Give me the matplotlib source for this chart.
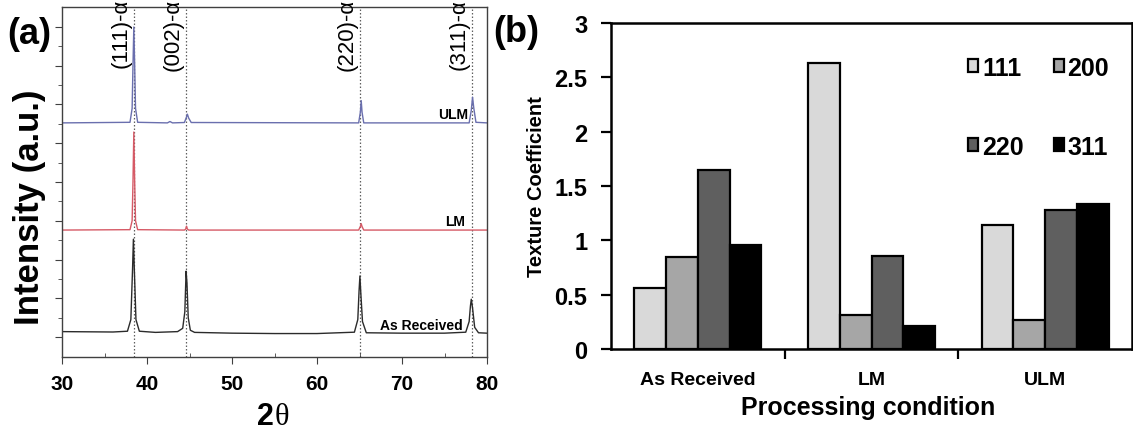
import matplotlib
matplotlib.use("Agg")
import matplotlib.pyplot as plt
import numpy as np

plt.rcParams['font.family'] = ['Liberation Sans', 'DejaVu Sans']

# --- (a) XRD patterns, offset vertically ---
tt_ar = [30, 33, 36, 37.7, 38.1, 38.3, 38.4, 38.5, 38.7, 39.1, 41, 43.6, 44.2,
         44.45, 44.6, 44.7, 44.85, 45.1, 45.6, 50, 55, 60, 64.4, 64.8, 64.95,
         65.05, 65.15, 65.35, 65.8, 70, 75, 77.5, 77.9, 78.05, 78.15, 78.3,
         78.55, 79.0, 80]
int_ar = [0.28, 0.27, 0.26, 0.3, 0.9, 3.5, 5.05, 3.6, 0.9, 0.3, 0.24, 0.28, 0.45,
          1.3, 3.4, 2.8, 1.0, 0.35, 0.24, 0.2, 0.18, 0.18, 0.25, 0.9, 2.4,
          3.15, 2.3, 0.8, 0.22, 0.2, 0.2, 0.25, 0.8, 1.6, 1.95, 1.5,
          0.5, 0.22, 0.2]

tt_lm = [30, 38.0, 38.25, 38.35, 38.45, 38.55, 38.65, 38.9, 44.4, 44.55, 44.65,
         44.75, 44.9, 64.9, 65.1, 65.2, 65.3, 65.5, 80]
int_lm = [5.52, 5.54, 6.0, 8.0, 10.58, 8.0, 6.0, 5.54, 5.52, 5.57, 5.72,
          5.57, 5.52, 5.52, 5.7, 5.85, 5.7, 5.52, 5.52]

tt_ulm = [30, 38.0, 38.25, 38.35, 38.45, 38.55, 38.65, 38.9, 42.4, 42.7, 43.0,
          44.4, 44.6, 44.75, 44.9, 45.2, 64.9, 65.1, 65.2, 65.3, 65.5, 77.9,
          78.15, 78.3, 78.45, 78.7, 80]
int_ulm = [11.05, 11.08, 11.8, 14.0, 16.0, 14.0, 11.8, 11.08, 11.05, 11.12, 11.05,
           11.07, 11.3, 11.5, 11.3, 11.07, 11.05, 11.6, 12.2, 11.6, 11.05, 11.05,
           11.7, 12.38, 11.8, 11.08, 11.05]

peak_pos = [38.42, 44.6, 65.05, 78.18]
peak_names = ['(111)-α', '(002)-α', '(220)-α', '(311)-α']

# --- (b) texture coefficients ---
conditions = ['As Received', 'LM', 'ULM']
planes = ['111', '200', '220', '311']
tc = {
    '111': [0.56, 2.63, 1.14],
    '200': [0.85, 0.31, 0.27],
    '220': [1.65, 0.86, 1.28],
    '311': [0.96, 0.21, 1.33],
}
bar_colors = ['#d9d9d9', '#a6a6a6', '#5f5f5f', '#000000']

W, H = 1133, 431
fig = plt.figure(figsize=(W / 100, H / 100), dpi=100)

ax1 = fig.add_axes([62 / W, 1 - 358 / H, 425 / W, 350 / H])
for x in peak_pos:
    ax1.axvline(x, color='#606060', ls=(0, (1.2, 1.6)), lw=0.9, zorder=1)
ax1.plot(tt_ar, int_ar, color='#2b2b2b', lw=1.0, zorder=2)
ax1.plot(tt_lm, int_lm, color='#d65a66', lw=1.0, zorder=2)
ax1.plot(tt_ulm, int_ulm, color='#6a6fae', lw=1.0, zorder=2)

for x, name in zip(peak_pos, peak_names):
    ax1.text(x - 0.25, 17.5, name, rotation=90, ha='right', va='top', fontsize=16)

ax1.text(77.8, 11.5, 'ULM', ha='right', va='center', fontsize=10, fontweight='bold')
ax1.text(77.4, 6.0, 'LM', ha='right', va='center', fontsize=10, fontweight='bold')
ax1.text(77.2, 0.6, 'As Received', ha='right', va='center', fontsize=10,
         fontweight='bold')

ax1.set_xlim(30, 80)
ax1.set_ylim(-1.03, 17.03)
ax1.set_xticks(np.arange(30, 81, 10))
ax1.set_xticks(np.arange(35, 80, 10), minor=True)
ax1.set_yticks(np.arange(0, 17, 2))
ax1.set_yticks(np.arange(1, 17, 2), minor=True)
ax1.tick_params(axis='y', which='both', labelleft=False, direction='out',
                color='#404040')
ax1.tick_params(axis='y', which='major', length=5)
ax1.tick_params(axis='y', which='minor', length=3)
ax1.tick_params(axis='x', which='major', length=5, direction='out', pad=7,
                labelsize=15, color='#404040')
ax1.tick_params(axis='x', which='minor', length=3, direction='in', color='#404040')
for lab in ax1.get_xticklabels():
    lab.set_fontweight('bold')
for sp in ax1.spines.values():
    sp.set_color('#404040')
    sp.set_linewidth(1.0)

fig.text(30 / W, 1 - 207 / H, 'Intensity (a.u.)', rotation=90, ha='center',
         va='center', fontsize=25, fontweight='bold')
fig.text(274 / W, 1 - 425 / H, '2', ha='right', va='baseline', fontsize=22,
         fontweight='bold')
fig.text(275 / W, 1 - 425 / H, 'θ', ha='left', va='baseline', fontsize=22,
         family=['Liberation Serif', 'DejaVu Serif'])
fig.text(29 / W, 1 - 35 / H, '(a)', ha='center', va='center', fontsize=26,
         fontweight='bold')

# --- panel (b) ---
ax2 = fig.add_axes([611 / W, 1 - 350 / H, 521 / W, 326 / H])
x = np.arange(len(conditions))
w = 0.183
bars = []
for i, (p, c) in enumerate(zip(planes, bar_colors)):
    bars.append(ax2.bar(x + (i - 1.5) * w, tc[p], width=w, color=c,
                        edgecolor='black', linewidth=1.6, label=p))

ax2.set_xlim(-0.5, 2.5)
ax2.set_ylim(0, 3)
ax2.set_yticks([0, 0.5, 1, 1.5, 2, 2.5, 3])
ax2.set_yticklabels(['0', '0.5', '1', '1.5', '2', '2.5', '3'])
ax2.set_xticks(x)
ax2.set_xticklabels(conditions)
ax2.set_xticks([0.5, 1.5], minor=True)
ax2.tick_params(axis='x', which='major', length=0, pad=16, labelsize=14)
ax2.tick_params(axis='x', which='minor', length=7, width=1.6, direction='out')
ax2.tick_params(axis='y', length=7, width=1.6, direction='out', pad=10,
                labelsize=17)
for lab in ax2.get_xticklabels() + ax2.get_yticklabels():
    lab.set_fontweight('bold')
for sp in ax2.spines.values():
    sp.set_linewidth(1.8)

# two columns filled row by row: 111 200 / 220 311
order = [0, 2, 1, 3]
ax2.legend([bars[i] for i in order], [planes[i] for i in order], ncol=2,
           loc='upper left', bbox_to_anchor=(0.686, 0.90), frameon=False,
           prop={'weight': 'bold', 'size': 18}, handlelength=0.4,
           handleheight=0.4, handletextpad=0.15, columnspacing=1.2,
           labelspacing=2.2, borderpad=0, borderaxespad=0)

fig.text(536 / W, 1 - 187 / H, 'Texture Coefficient', rotation=90, ha='center',
         va='center', fontsize=14.5, fontweight='bold')
fig.text(868 / W, 1 - 408 / H, 'Processing condition', ha='center', va='center',
         fontsize=18, fontweight='bold')
fig.text(516 / W, 1 - 33 / H, '(b)', ha='center', va='center', fontsize=26,
         fontweight='bold')

fig.savefig('out.png', dpi=100)
